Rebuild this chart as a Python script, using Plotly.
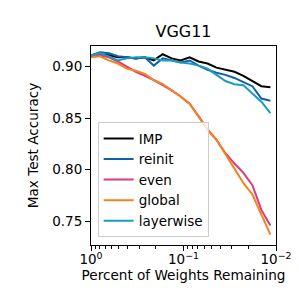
import plotly.graph_objects as go

# Fraction of weights remaining (x) for each pruning round
weights_remaining = [1.0, 0.8, 0.64, 0.512, 0.4096, 0.3277, 0.2621, 0.2097, 0.1678, 0.1342,
                     0.1074, 0.0859, 0.0687, 0.055, 0.044, 0.0352, 0.0281, 0.0225, 0.018,
                     0.0144, 0.0115]

imp = [0.910, 0.912, 0.911, 0.909, 0.909, 0.908, 0.909, 0.906, 0.912, 0.908,
       0.906, 0.909, 0.905, 0.903, 0.899, 0.897, 0.895, 0.891, 0.886, 0.881, 0.880]
reinit = [0.911, 0.914, 0.913, 0.910, 0.909, 0.908, 0.909, 0.901, 0.908, 0.906,
          0.904, 0.906, 0.901, 0.897, 0.894, 0.892, 0.889, 0.885, 0.881, 0.869, 0.867]
even = [0.911, 0.911, 0.909, 0.905, 0.900, 0.895, 0.891, 0.887, 0.882, 0.877,
        0.871, 0.864, 0.852, 0.839, 0.829, 0.816, 0.806, 0.797, 0.785, 0.761, 0.746]
global_ = [0.909, 0.910, 0.906, 0.903, 0.898, 0.896, 0.893, 0.887, 0.883, 0.877,
           0.871, 0.864, 0.851, 0.839, 0.829, 0.815, 0.800, 0.787, 0.776, 0.757, 0.737]
layerwise = [0.911, 0.913, 0.910, 0.906, 0.908, 0.909, 0.909, 0.908, 0.906, 0.906,
             0.904, 0.903, 0.901, 0.898, 0.892, 0.886, 0.883, 0.882, 0.874, 0.866, 0.855]

series_names = ["IMP", "reinit", "even", "global", "layerwise"]
series_values = [imp, reinit, even, global_, layerwise]
series_colors = ["#000000", "#0F62AA", "#DC3A78", "#F58220", "#1A9BC4"]

x_tick_vals = [1, 0.1, 0.01]
x_tick_text = ["10<sup>0</sup>", "10<sup>\u22121</sup>", "10<sup>\u22122</sup>"]
x_minor_vals = [m * d for d in (0.1, 0.01) for m in range(2, 10)]
y_tick_vals = [0.75, 0.80, 0.85, 0.90]
y_tick_text = ["0.75", "0.80", "0.85", "0.90"]

FONT = "DejaVu Sans"
TICK_SIZE = 13.5
LABEL_SIZE = 13.6

fig = go.Figure()
for name, vals, col in zip(series_names, series_values, series_colors):
    fig.add_trace(go.Scatter(x=weights_remaining, y=vals, mode="lines", name=name,
                             line=dict(color=col, width=2)))

fig.update_layout(
    width=299, height=299,
    margin=dict(l=83, r=31, t=38, b=62),
    paper_bgcolor="white", plot_bgcolor="white",
    font=dict(family=FONT, size=TICK_SIZE, color="black"),
    title=dict(text="VGG11", x=(83 + 268) / 2 / 299, xanchor="center",
               y=1 - 23 / 299, yanchor="middle", font=dict(size=16)),
    showlegend=True,
    legend=dict(x=0.036, y=0.039, xanchor="left", yanchor="bottom",
                bgcolor="rgba(255,255,255,0.8)", bordercolor="#cccccc", borderwidth=1,
                font=dict(size=13.5), tracegroupgap=0, itemwidth=30),
)
fig.update_xaxes(
    type="log", range=[0, -2], tickmode="array", tickvals=x_tick_vals, ticktext=x_tick_text,
    ticks="outside", ticklen=5, tickwidth=1, tickcolor="black",
    tickfont=dict(size=TICK_SIZE), ticklabelstandoff=-3,
    showline=True, linecolor="black", linewidth=1, mirror=True, showgrid=False, zeroline=False,
    minor=dict(tickvals=x_minor_vals, ticks="outside", ticklen=3, tickwidth=0.8, tickcolor="black", showgrid=False),
    title=dict(text="Percent of Weights Remaining", standoff=2, font=dict(size=LABEL_SIZE)),
)
fig.update_yaxes(
    range=[0.727, 0.920], tickmode="array", tickvals=y_tick_vals, ticktext=y_tick_text,
    ticks="outside", ticklen=5, tickwidth=1, tickcolor="black",
    tickfont=dict(size=TICK_SIZE),
    showline=True, linecolor="black", linewidth=1, mirror=True, showgrid=False, zeroline=False,
    title=dict(text="Max Test Accuracy", standoff=10, font=dict(size=LABEL_SIZE)),
)

fig.write_html("out.html")
